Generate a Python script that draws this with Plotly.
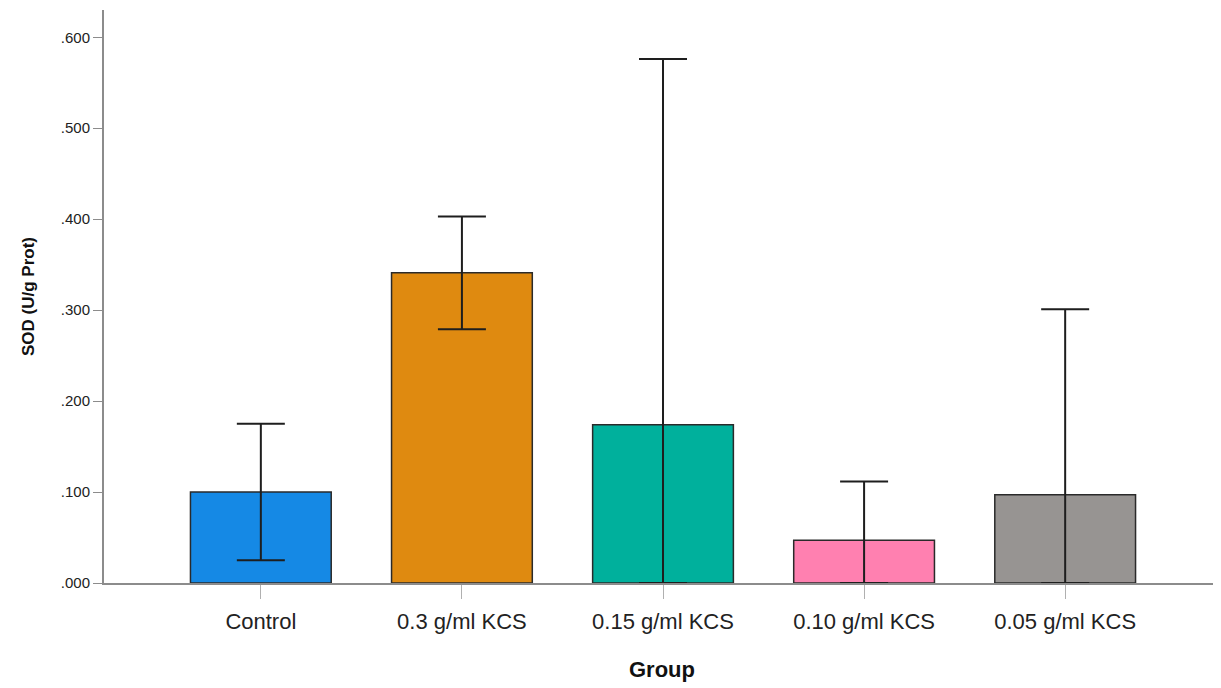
import plotly.graph_objects as go

categories = ["Control", "0.3 g/ml KCS", "0.15 g/ml KCS", "0.10 g/ml KCS", "0.05 g/ml KCS"]
means = [0.100, 0.341, 0.174, 0.047, 0.097]
errors = [0.075, 0.062, 0.402, 0.0645, 0.204]
colors = ["#1589E5", "#DF8A10", "#00B09C", "#FF80B0", "#979492"]
ytick_vals = [0.0, 0.1, 0.2, 0.3, 0.4, 0.5, 0.6]
ytick_text = [".000", ".100", ".200", ".300", ".400", ".500", ".600"]

# lower error bars are clipped at zero (as in the original chart)
err_minus = [min(e, m) for e, m in zip(errors, means)]

fig = go.Figure()
fig.add_trace(go.Bar(
    x=list(range(len(categories))),
    y=means,
    width=0.7,
    marker=dict(color=colors, line=dict(color="#2a2a2a", width=1.5)),
    error_y=dict(type="data", array=errors, arrayminus=err_minus, symmetric=False,
                 color="#1e1e1e", thickness=2, width=24),
    showlegend=False,
    hoverinfo="skip",
))

font_family = "Liberation Sans, Arial, sans-serif"

fig.update_layout(
    width=1213, height=680,
    margin=dict(l=96, r=1, t=2, b=105),
    paper_bgcolor="white", plot_bgcolor="white",
    font=dict(family=font_family, color="#111"),
    xaxis=dict(
        tickmode="array",
        tickvals=list(range(len(categories))),
        ticktext=categories,
        range=[-0.78, 4.77],
        showline=True, linecolor="#8c8c8c", linewidth=2,
        ticks="outside", ticklen=14, tickcolor="#b0b0b0", tickwidth=1,
        ticklabelstandoff=4,
        tickfont=dict(size=22, color="#222"),
        showgrid=False, zeroline=False,
        title=dict(text="<b>Group</b>", font=dict(size=22, color="#111"), standoff=28),
    ),
    yaxis=dict(
        range=[0, 0.63],
        tickmode="array",
        tickvals=ytick_vals,
        ticktext=ytick_text,
        showline=True, linecolor="#8c8c8c", linewidth=2,
        ticks="outside", ticklen=9, tickcolor="#8c8c8c", tickwidth=1,
        tickfont=dict(size=15, color="#222"),
        showgrid=False, zeroline=False,
        title=dict(text="<b>SOD (U/g Prot)</b>", font=dict(size=17, color="#111"), standoff=22),
    ),
)

fig.write_html("out.html")
